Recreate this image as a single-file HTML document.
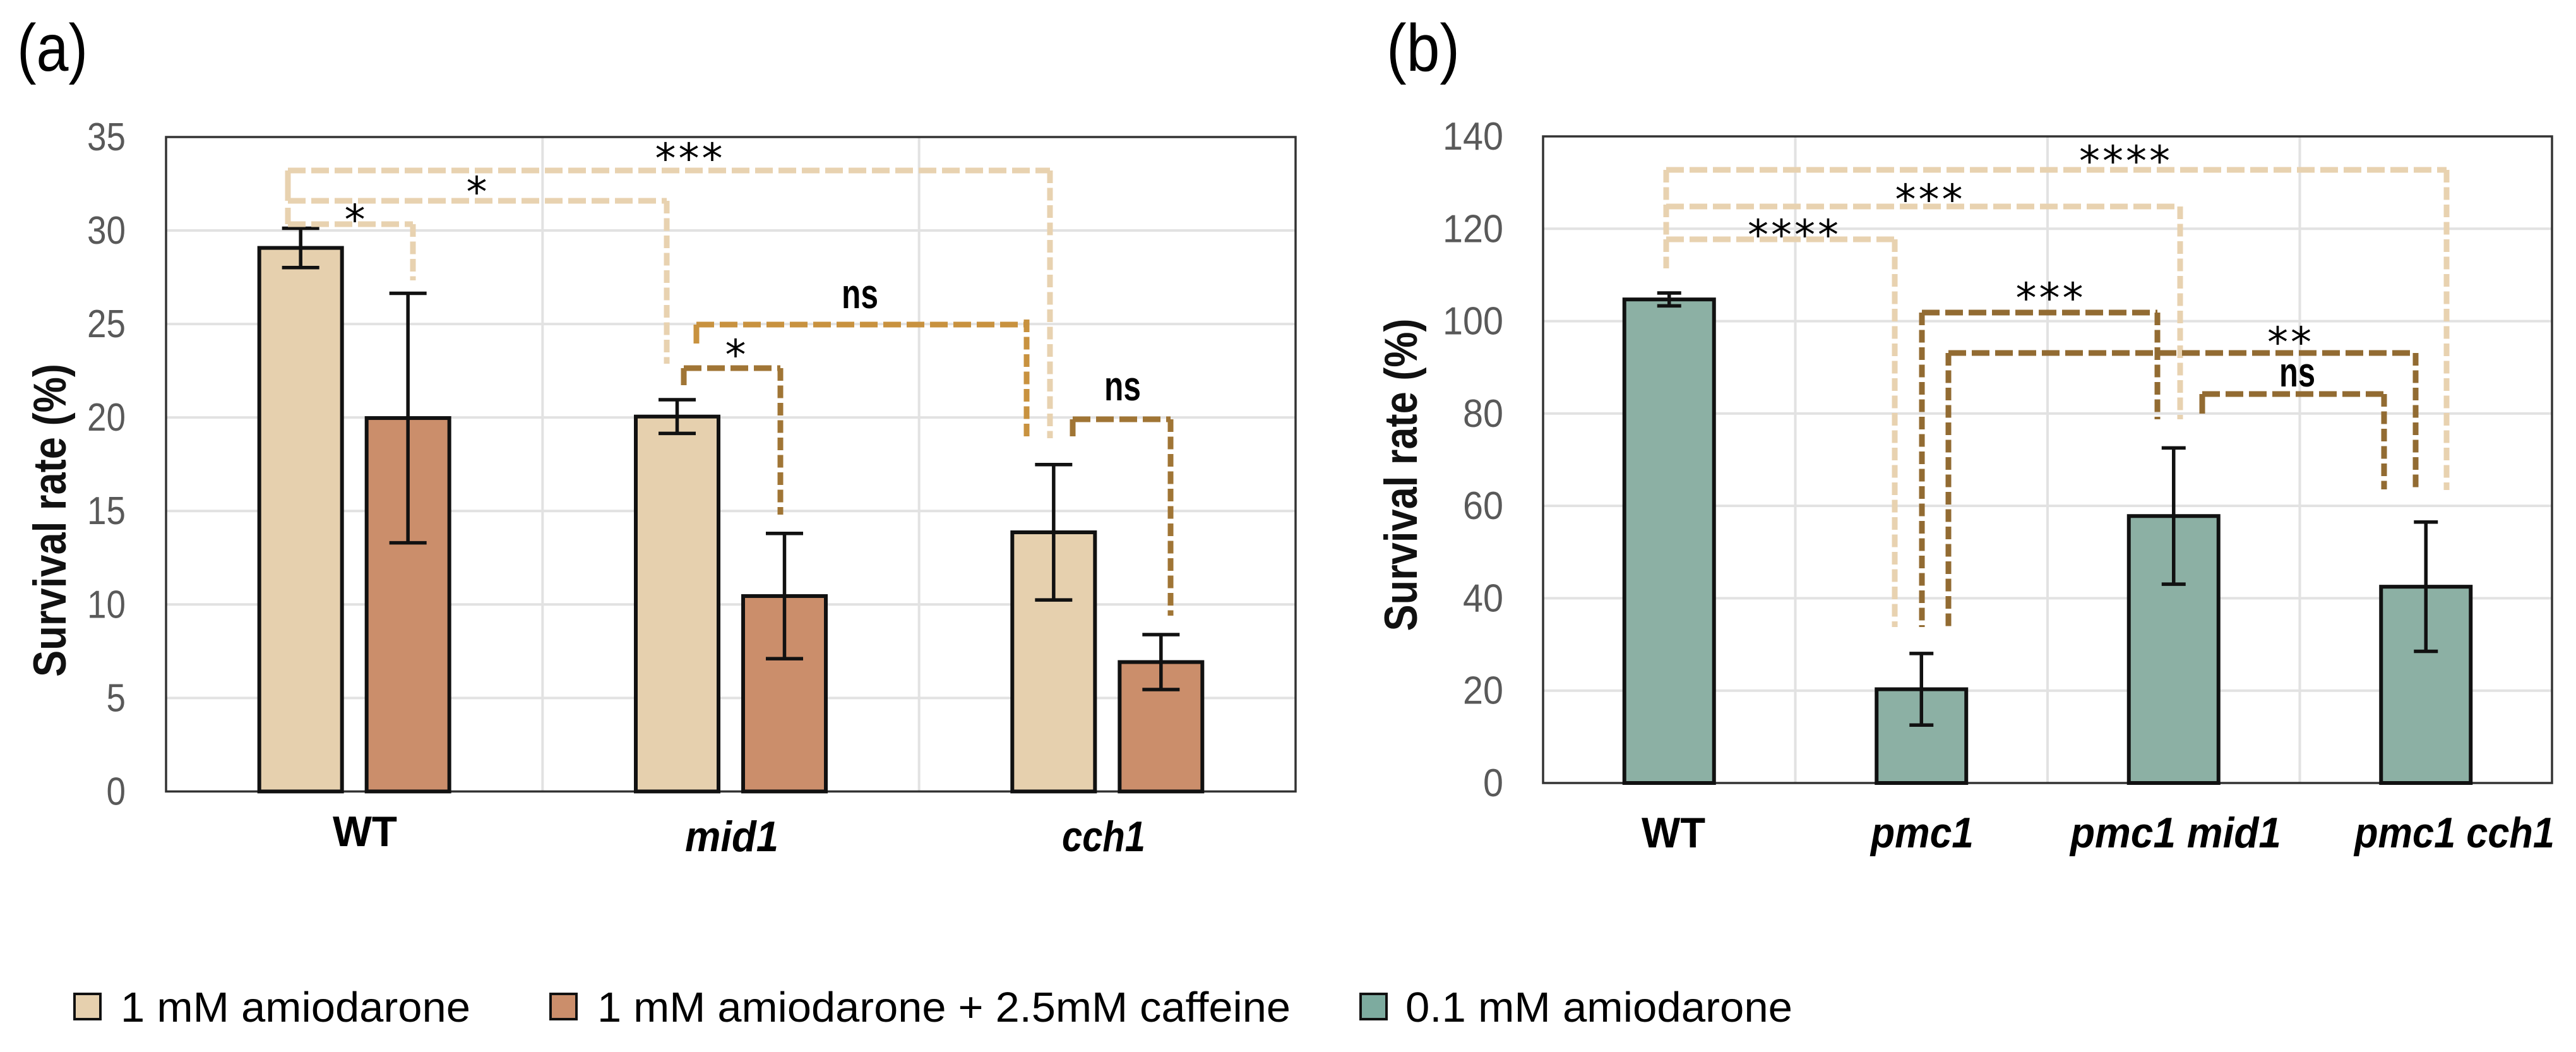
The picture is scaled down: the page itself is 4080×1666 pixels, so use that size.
<!DOCTYPE html>
<html lang="en">
<head>
<meta charset="utf-8">
<title>Survival rate charts</title>
<style>
html,body{margin:0;padding:0;background:#fff;width:4080px;height:1666px;overflow:hidden}
svg{display:block}
text{font-family:"Liberation Sans",sans-serif}
.tick{font-size:62px;fill:#595959}
.ytitle{font-size:73px;font-weight:700;fill:#111}
.xlab{font-size:68px;font-weight:700;fill:#000}
.xlab.it{font-style:italic}
.leg{font-size:67px;fill:#000}
.panel{font-size:106px;fill:#000}
.star{font-family:"DejaVu Sans",sans-serif;font-size:66px;fill:#000;text-anchor:middle;letter-spacing:4px}
.ns{font-size:66px;font-weight:700;fill:#000}
.h,.v{fill:none;stroke-width:9}
.h{stroke-dasharray:28 9}
.v{stroke-dasharray:20 7.5}
.v.s{stroke-dasharray:none}
.tan{stroke:#e8d2b0}
.orange{stroke:#c8923f}
.brown{stroke:#a07535}
.dark{stroke:#926b32}
</style>
</head>
<body>
<svg id="figure" xmlns="http://www.w3.org/2000/svg" width="4080" height="1666" viewBox="0 0 4080 1666">
  <text class="panel" x="27" y="112" textLength="112" lengthAdjust="spacingAndGlyphs">(a)</text>
  <text class="panel" x="2196" y="112" textLength="116" lengthAdjust="spacingAndGlyphs">(b)</text>

  <g id="chart-a"></g>
  <g id="chart-b"></g>

  <text class="ytitle" x="104" y="824" text-anchor="middle" transform="rotate(-90 104 824)" textLength="496" lengthAdjust="spacingAndGlyphs">Survival rate (%)</text>
  <text class="ytitle" x="2244" y="752" text-anchor="middle" transform="rotate(-90 2244 752)" textLength="495" lengthAdjust="spacingAndGlyphs">Survival rate (%)</text>

  <g>
    <g>
      <path class="v s tan" d="M456 329V355"/><path class="h tan" d="M456 355H654"/><path class="v tan" d="M654 355V444"/>
    </g>
    <g>
      <path class="v s tan" d="M456 291V318"/><path class="h tan" d="M456 318H1056"/><path class="v tan" d="M1056 318V576"/>
    </g>
    <g>
      <path class="v s tan" d="M456 270V291"/><path class="h tan" d="M456 270H1663"/><path class="v tan" d="M1663 270V694"/>
    </g>
    <g>
      <path class="v s orange" d="M1103 514V544"/><path class="h orange" d="M1103 514H1626"/><path class="v orange" d="M1626 506V694"/>
    </g>
    <g>
      <path class="v s brown" d="M1083 583V610"/><path class="h brown" d="M1083 583H1236"/><path class="v brown" d="M1236 583V815"/>
    </g>
    <g>
      <path class="v s brown" d="M1699 664V691"/><path class="h brown" d="M1699 664H1854"/><path class="v brown" d="M1854 664V975"/>
    </g>
    <text class="star" x="564" y="371">*</text>
    <text class="star" x="757" y="327">*</text>
    <text class="star" x="1093" y="274">***</text>
    <text class="star" x="1167" y="585">*</text>
    <text class="ns" x="1333" y="488" textLength="58" lengthAdjust="spacingAndGlyphs">ns</text>
    <text class="ns" x="1749" y="634" textLength="58" lengthAdjust="spacingAndGlyphs">ns</text>
  </g>

  <g>
    <g>
      <path class="h tan" d="M2639 269H3875"/><path class="v tan" d="M3875 269V776"/><path class="v tan" d="M2639 269V425"/>
    </g>
    <g>
      <path class="h tan" d="M2639 327H3453"/><path class="v tan" d="M3453 327V664"/>
    </g>
    <g>
      <path class="h tan" d="M2639 379H3001"/><path class="v tan" d="M3001 379V993"/>
    </g>
    <g>
      <path class="v dark" d="M3044 495V993"/><path class="h dark" d="M3044 495H3417"/><path class="v dark" d="M3417 495V664"/>
    </g>
    <g>
      <path class="v dark" d="M3086 559V993"/><path class="h dark" d="M3086 559H3826"/><path class="v dark" d="M3826 559V779"/>
    </g>
    <g>
      <path class="v s dark" d="M3488 624V655"/><path class="h dark" d="M3488 624H3776"/><path class="v dark" d="M3776 624V775"/>
    </g>
    <text class="star" x="3367" y="278">****</text>
    <text class="star" x="3057" y="339">***</text>
    <text class="star" x="2842" y="395">****</text>
    <text class="star" x="3248" y="495">***</text>
    <text class="star" x="3628" y="565">**</text>
    <text class="ns" x="3610" y="612" textLength="57" lengthAdjust="spacingAndGlyphs">ns</text>
  </g>

  <g>
    <rect x="118" y="1574" width="41" height="40" fill="#e6d0ae" stroke="#111" stroke-width="4"/>
    <text class="leg" x="191" y="1618" textLength="554" lengthAdjust="spacingAndGlyphs">1 mM amiodarone</text>
    <rect x="872" y="1574" width="41" height="40" fill="#cb8e6b" stroke="#111" stroke-width="4"/>
    <text class="leg" x="946" y="1618" textLength="1098" lengthAdjust="spacingAndGlyphs">1 mM amiodarone + 2.5mM caffeine</text>
    <rect x="2155" y="1574" width="41" height="40" fill="#7dab9f" stroke="#111" stroke-width="4"/>
    <text class="leg" x="2226" y="1618" textLength="613" lengthAdjust="spacingAndGlyphs">0.1 mM amiodarone</text>
  </g>
</svg>

<script>
// Chart (a) data
const categoriesA = ['WT', 'mid1', 'cch1'];
const amiodaroneValues = [29.07, 20.05, 13.86];
const amiodaroneErrors = [1.05, 0.9, 3.62];
const caffeineValues = [19.97, 10.45, 6.92];
const caffeineErrors = [6.67, 3.35, 1.47];
const yTicksA = [0, 5, 10, 15, 20, 25, 30, 35];

// Chart (b) data
const categoriesB = ['WT', 'pmc1', 'pmc1 mid1', 'pmc1 cch1'];
const lowAmiodaroneValues = [104.7, 20.3, 57.8, 42.5];
const lowAmiodaroneErrors = [1.4, 7.75, 14.75, 14];
const yTicksB = [0, 20, 40, 60, 80, 100, 120, 140];

const NS = 'http://www.w3.org/2000/svg';

function mk(parent, tag, attrs, txt) {
  const el = document.createElementNS(NS, tag);
  for (const k in attrs) el.setAttribute(k, attrs[k]);
  if (txt !== undefined) el.textContent = txt;
  parent.appendChild(el);
  return el;
}

function drawFrame(root, opt, cats, ticks, yScale, xBand) {
  // horizontal gridlines and tick labels
  ticks.forEach(function (t) {
    if (t !== ticks[0] && t !== ticks[ticks.length - 1]) {
      const g = mk(root, 'line', { x1: opt.left, x2: opt.right, y1: yScale(t), y2: yScale(t), stroke: '#e2e2e2', 'stroke-width': 4 });
      
      
    }
    const s = String(t);
    const lab = mk(root, 'text', { class: 'tick', x: opt.tickRight, y: yScale(t) + 21, 'text-anchor': 'end', textLength: s.length * opt.digit, lengthAdjust: 'spacingAndGlyphs' }, s);
    
    
  });
  // vertical gridlines at category boundaries
  for (let i = 1; i < cats.length; i++) {
    const v = mk(root, 'line', { x1: xBand(i), x2: xBand(i), y1: opt.top, y2: opt.bottom, stroke: '#e2e2e2', 'stroke-width': 4 });
    
    
  }
  const border = mk(root, 'rect', { x: opt.left, y: opt.top, width: opt.right - opt.left, height: opt.bottom - opt.top, fill: 'none', stroke: '#333', 'stroke-width': 3.5 });
  
  
}

function drawBar(root, name, cx, width, value, err, fill, yScale, capW) {
  const y0 = yScale(0);
  const yv = yScale(value);
  const bar = mk(root, 'rect', { x: cx - width / 2, y: yv, width: width, height: y0 - yv, fill: fill, stroke: '#111', 'stroke-width': 6 });
  
  
  const yHi = yScale(value + err);
  const yLo = yScale(value - err);
  const eb = mk(root, 'path', { d: 'M' + cx + ' ' + yHi + 'V' + yLo + 'M' + (cx - capW / 2) + ' ' + yHi + 'H' + (cx + capW / 2) + 'M' + (cx - capW / 2) + ' ' + yLo + 'H' + (cx + capW / 2), fill: 'none', stroke: '#111', 'stroke-width': 5.5 });
  
  
}

// Chart (a)
const optA = { left: 263, right: 2052, top: 217, bottom: 1253.4, tickRight: 199, digit: 30.5 };
const rootA = document.getElementById('chart-a');
const yMaxA = yTicksA[yTicksA.length - 1];
function yA(v) { return optA.bottom - (v / yMaxA) * (optA.bottom - optA.top); }
function bandA(i) { return optA.left + i * (optA.right - optA.left) / categoriesA.length; }
function centerA(i) { return bandA(i) + (bandA(i + 1) - bandA(i)) / 2; }
drawFrame(rootA, optA, categoriesA, yTicksA, yA, bandA);
categoriesA.forEach(function (c, i) {
  drawBar(rootA, c + '-amiodarone', centerA(i) - 85, 131, amiodaroneValues[i], amiodaroneErrors[i], '#e6d0ae', yA, 59);
  drawBar(rootA, c + '-caffeine', centerA(i) + 85, 131, caffeineValues[i], caffeineErrors[i], '#cb8e6b', yA, 59);
});
const xLabelAttrsA = [
  { x: 527, y: 1340, len: 102 },
  { x: 1085, y: 1348, len: 148 },
  { x: 1682, y: 1348, len: 132 }
];
categoriesA.forEach(function (c, i) {
  const p = xLabelAttrsA[i];
  const t = mk(rootA, 'text', { class: i === 0 ? 'xlab' : 'xlab it', x: p.x, y: p.y, textLength: p.len, lengthAdjust: 'spacingAndGlyphs' }, c);
  
  
});

// Chart (b)
const optB = { left: 2444, right: 4042, top: 216, bottom: 1240, tickRight: 2381, digit: 32 };
const rootB = document.getElementById('chart-b');
const yMaxB = yTicksB[yTicksB.length - 1];
function yB(v) { return optB.bottom - (v / yMaxB) * (optB.bottom - optB.top); }
function bandB(i) { return optB.left + i * (optB.right - optB.left) / categoriesB.length; }
function centerB(i) { return bandB(i) + (bandB(i + 1) - bandB(i)) / 2; }
drawFrame(rootB, optB, categoriesB, yTicksB, yB, bandB);
categoriesB.forEach(function (c, i) {
  drawBar(rootB, c.replace(' ', '-'), centerB(i), 142, lowAmiodaroneValues[i], lowAmiodaroneErrors[i], '#8cb0a4', yB, 38);
});
const xLabelAttrsB = [
  { x: 2600, y: 1342, len: 101 },
  { x: 2963, y: 1342, len: 163 },
  { x: 3279, y: 1342, len: 334 },
  { x: 3729, y: 1342, len: 317 }
];
categoriesB.forEach(function (c, i) {
  const p = xLabelAttrsB[i];
  const t = mk(rootB, 'text', { class: i === 0 ? 'xlab' : 'xlab it', x: p.x, y: p.y, textLength: p.len, lengthAdjust: 'spacingAndGlyphs' }, c);
  
  
});
</script>
</body>
</html>
